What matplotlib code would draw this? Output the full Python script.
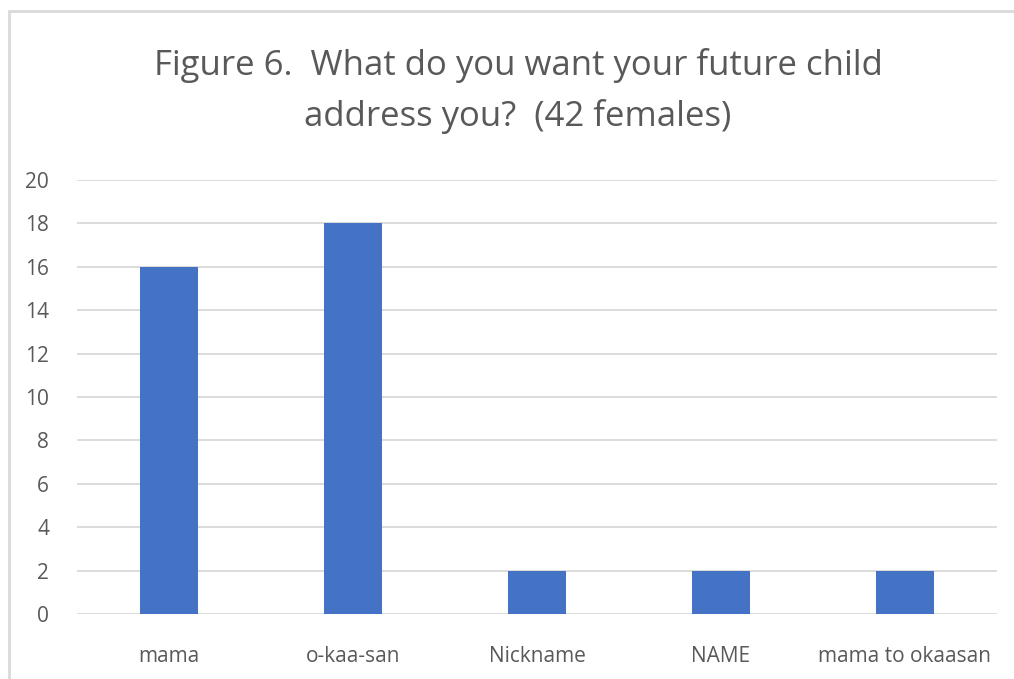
import matplotlib.pyplot as plt
from matplotlib.patches import Rectangle

categories = ['mama', 'o-kaa-san', 'Nickname', 'NAME', 'mama to okaasan']
counts = [16, 18, 2, 2, 2]
yticks = list(range(0, 21, 2))

W, H = 1014, 679
plt.rcParams['font.family'] = ['Open Sans', 'DejaVu Sans']

fig = plt.figure(figsize=(W / 100, H / 100), dpi=100)
fig.patch.set_facecolor('white')

# outer chart border
fig.patches.append(Rectangle((9 / W, -0.01), 1.2, 1 - 11 / H + 0.01, transform=fig.transFigure,
                             fill=False, edgecolor='#d9d9d9', linewidth=2))

ax = fig.add_axes([77 / W, 1 - 614 / H, 920 / W, 434 / H])
ax.bar(range(len(categories)), counts, width=0.31, color='#4472c4', zorder=3)
ax.set_xlim(-0.5, len(categories) - 0.5)
ax.set_ylim(0, 20)
ax.set_yticks(yticks)
ax.set_xticks(range(len(categories)))
ax.set_xticklabels(categories)
ax.grid(axis='y', color='#d9d9d9', linewidth=1.3, zorder=0)
for s in ax.spines.values():
    s.set_visible(False)
ax.tick_params(axis='both', length=0, colors='#595959', labelsize=15)
ax.tick_params(axis='x', pad=23)
ax.tick_params(axis='y', pad=20)

fig.text(518 / W, 1 - 91 / H, 'Figure 6.  What do you want your future child\naddress you?  (42 females)',
         ha='center', va='center', fontsize=25, color='#595959', linespacing=1.6)

fig.savefig('out.png', dpi=100)
